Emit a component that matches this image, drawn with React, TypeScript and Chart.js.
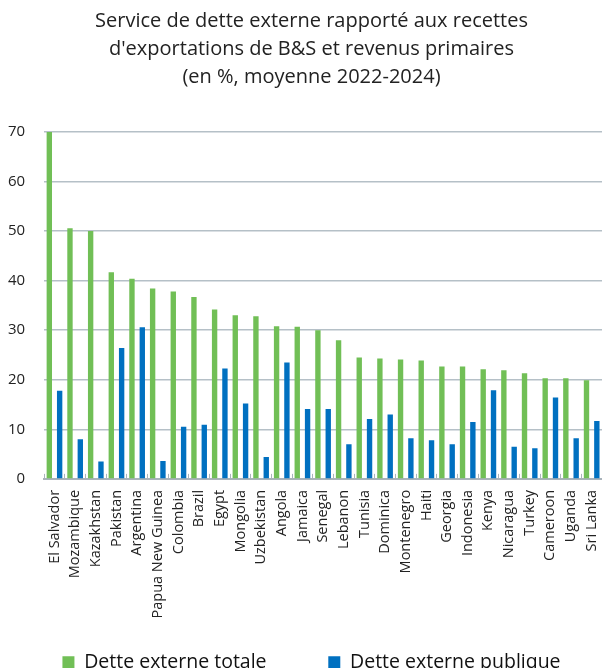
import React, { useEffect, useRef } from "react";
import { Chart, registerables } from "chart.js";

Chart.register(...registerables);

const categories = [
  "El Salvador", "Mozambique", "Kazakhstan", "Pakistan", "Argentina", "Papua New Guinea",
  "Colombia", "Brazil", "Egypt", "Mongolia", "Uzbekistan", "Angola", "Jamaica", "Senegal",
  "Lebanon", "Tunisia", "Dominica", "Montenegro", "Haiti", "Georgia", "Indonesia", "Kenya",
  "Nicaragua", "Turkey", "Cameroon", "Uganda", "Sri Lanka",
];

const detteTotale = [
  70.0, 50.6, 50.0, 41.7, 40.4, 38.4, 37.8, 36.7, 34.2, 33.0, 32.8, 30.8, 30.7, 30.0,
  28.0, 24.5, 24.3, 24.1, 23.9, 22.7, 22.7, 22.1, 21.9, 21.3, 20.3, 20.3, 19.9,
];

const dettePublique = [
  17.8, 8.0, 3.5, 26.4, 30.6, 3.6, 10.5, 10.9, 22.3, 15.2, 4.4, 23.5, 14.1, 14.1,
  7.0, 12.1, 13.0, 8.2, 7.8, 7.0, 11.5, 17.9, 6.5, 6.2, 16.4, 8.2, 11.7,
];

const titleLines = [
  "Service de dette externe rapporté aux recettes",
  "d'exportations de B&S et revenus primaires",
  "(en %, moyenne 2022-2024)",
];

const FONT = "'Open Sans', 'DejaVu Sans', sans-serif";

export default function App() {
  const ref = useRef<HTMLCanvasElement | null>(null);

  useEffect(() => {
    if (!ref.current) return;
    const chart = new Chart(ref.current, {
      type: "bar",
      data: {
        labels: categories,
        datasets: [
          {
            label: "Dette externe totale",
            data: detteTotale,
            backgroundColor: "#71bf56",
            barPercentage: 0.52,
            categoryPercentage: 1,
          },
          {
            label: "Dette externe publique",
            data: dettePublique,
            backgroundColor: "#0070c0",
            barPercentage: 0.52,
            categoryPercentage: 1,
          },
        ],
      },
      options: {
        animation: false,
        responsive: true,
        maintainAspectRatio: false,
        layout: { padding: { left: 8, right: -13, top: 0, bottom: 0 } },
        plugins: {
          title: {
            display: true,
            text: titleLines,
            color: "#222222",
            font: { family: FONT, size: 20, weight: "normal", lineHeight: 1.4 },
            padding: { top: 7, bottom: 41 },
          },
          legend: {
            display: true,
            position: "bottom",
            align: "center",
            labels: {
              color: "#111111",
              font: { family: FONT, size: 19.5 },
              boxWidth: 12,
              boxHeight: 12,
              padding: 20,
              generateLabels: (c: any) => {
                const items = Chart.defaults.plugins.legend.labels.generateLabels(c);
                const spacer = {
                  text: "",
                  fillStyle: "rgba(0,0,0,0)",
                  strokeStyle: "rgba(0,0,0,0)",
                  lineWidth: 0,
                  hidden: false,
                  datasetIndex: -1,
                };
                return [items[0], spacer as any, items[1]];
              },
            },
            onClick: () => {},
          },
          tooltip: { enabled: false },
        },
        scales: {
          x: {
            grid: {
              display: true,
              drawOnChartArea: false,
              drawTicks: true,
              tickLength: -5,
              color: "#aab4bc",
              offset: true,
            },
            border: { display: true, color: "#a9b3ba", width: 2 },
            ticks: {
              autoSkip: false,
              minRotation: 90,
              maxRotation: 90,
              padding: 16,
              color: "#222222",
              font: { family: FONT, size: 14.5 },
            },
            afterFit: (scale: any) => {
              scale.height -= 2;
              scale.paddingLeft = 0;
              scale.paddingRight = 0;
            },
          },
          y: {
            min: 0,
            max: 70,
            ticks: {
              stepSize: 10,
              padding: 19,
              color: "#222222",
              font: { family: FONT, size: 15 },
            },
            grid: { color: "#b5c0c7", lineWidth: 1.5, drawTicks: false },
            border: { display: false },
            afterFit: (scale: any) => {
              scale.width -= 19;
            },
          },
        },
      },
    });
    return () => chart.destroy();
  }, []);

  return (
    <div style={{ position: "fixed", left: 0, top: 0, width: 602, height: 682, background: "#fff" }}>
      <canvas ref={ref} />
    </div>
  );
}
